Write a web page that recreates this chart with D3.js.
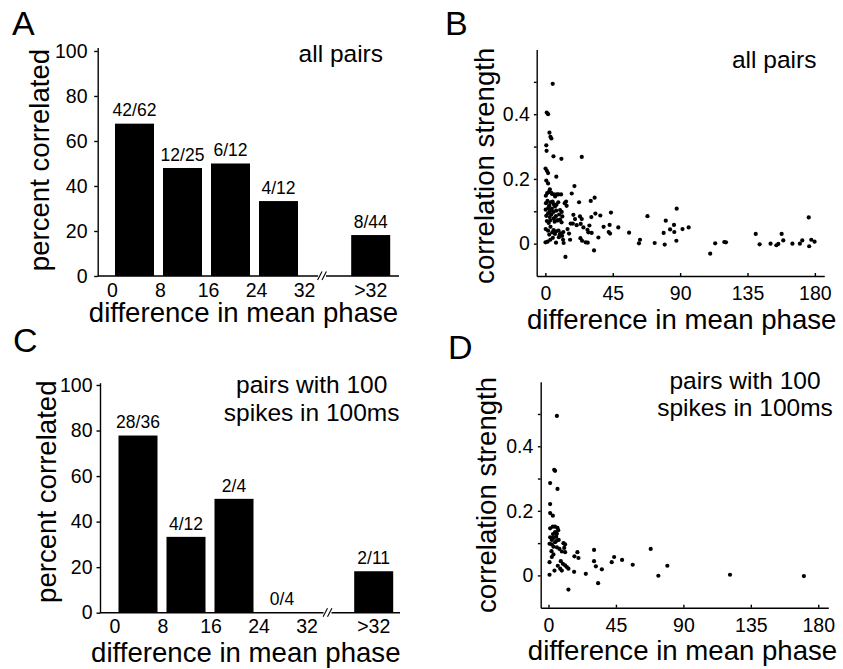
<!DOCTYPE html>
<html>
<head>
<meta charset="utf-8">
<script src="https://cdn.jsdelivr.net/npm/d3@7"></script>
<style>
  html, body { margin: 0; padding: 0; background: #fff; }
  svg { display: block; font-family: "Liberation Sans", Arial, Helvetica, sans-serif; }
</style>
</head>
<body>
<svg id="chart" width="843" height="669"></svg>
<script>
// ---------------- data ----------------
const barCategories = ["0-8", "8-16", "16-24", "24-32", ">32"];
const binStarts = [0, 8, 16, 24];
const xTickLabels = ["0", "8", "16", "24", "32"];
const overLabel = ">32";

const pctAllPairs = [67.7, 48, 50, 33.3, 18.2];
const fracAllPairs = ["42/62", "12/25", "6/12", "4/12", "8/44"];

const pctHighRate = [77.8, 33.3, 50, 0, 18.2];
const fracHighRate = ["28/36", "4/12", "2/4", "0/4", "2/11"];

const barYTicks = [0, 20, 40, 60, 80, 100];
const scatterXTicks = [0, 45, 90, 135, 180];
const scatterYTicks = [0, 0.1, 0.2, 0.3, 0.4, 0.5];
const scatterYLabelled = [0, 0.2, 0.4];

// [difference in mean phase, correlation strength]
const scatterAllPairs = [
  [4.9,0.494],[0.9,0.405],[1.8,0.400],[2.7,0.343],[3.4,0.330],[4.0,0.325],[0.6,0.304],[0.8,0.287],
  [5.4,0.270],[0.1,0.232],[1.0,0.225],[1.8,0.218],[7.3,0.207],[0.6,0.195],[1.8,0.186],[3.0,0.168],
  [3.8,0.158],[0.3,0.148],[1.2,0.156],[2.4,0.160],[4.3,0.154],[5.7,0.152],[7.6,0.152],[6.5,0.146],
  [0.4,0.125],[1.4,0.132],[2.6,0.118],[3.5,0.128],[4.8,0.130],[5.6,0.122],[6.4,0.115],[7.4,0.120],
  [0.2,0.105],[1.9,0.110],[3.0,0.100],[4.3,0.108],[5.4,0.098],[7.2,0.102],[0.6,0.086],[1.8,0.094],
  [2.9,0.082],[4.0,0.090],[5.6,0.078],[7.0,0.085],[1.0,0.070],[2.2,0.064],[3.3,0.072],[6.2,0.068],
  [7.8,0.072],[0.2,0.045],[1.8,0.040],[3.4,0.052],[4.6,0.035],[5.5,0.042],[6.4,0.030],[7.2,0.038],
  [2.6,0.028],[0.1,0.004],[1.5,0.006],[3.3,0.012],[5.0,0.018],[7.1,0.003],
  [10.7,0.262],[8.7,0.152],[10.5,0.152],[13.8,0.130],[14.2,0.117],[9.8,0.104],[10.9,0.098],[12.9,0.125],
  [8.6,0.128],[9.2,0.090],[11.3,0.084],[8.4,0.072],[9.8,0.074],[10.8,0.066],[8.8,0.040],[9.6,0.028],
  [10.4,0.032],[11.2,0.024],[12.0,0.036],[9.0,0.020],[11.8,0.012],[12.2,0.002],[13.4,-0.041],[15.8,0.031],
  [14.8,0.045],
  [17.6,0.155],[19.4,0.178],[22.5,0.128],[18.7,0.089],[19.8,0.076],[23.1,0.084],[16.9,0.062],[18.3,0.062],
  [20.9,0.057],[23.6,0.061],[16.5,0.012],[23.4,0.017],
  [24.3,0.268],[30.3,0.132],[24.3,0.076],[25.4,0.050],[29.4,0.056],[28.1,0.043],[28.7,0.035],[30.9,0.033],
  [24.5,0.009],[26.9,0.004],[28.3,0.003],[30.7,0.082],
  [32.9,0.142],[33.4,0.093],[36.7,0.087],[32.5,-0.021],[35.4,0.019],[38.9,0.052],[42.3,0.036],[42.9,0.058],
  [43.8,0.096],[43.2,0.031],[48.7,0.050],[55.9,0.034],[62.5,0.001],[63.2,0.012],[68.2,0.085],[73.0,0.002],
  [79.0,0.033],[79.7,-0.003],[80.4,0.071],[83.3,0.044],[85.9,0.058],[86.1,0.036],[87.5,0.009],[87.7,0.108],
  [91.6,0.045],[95.7,0.050],[110.1,-0.031],[113.4,0.001],[119.5,0.005],[120.6,0.004],[140.5,0.030],[143.1,-0.002],
  [150.4,0.000],[154.3,-0.005],[155.6,-0.001],[157.8,0.030],[158.9,0.010],[165.0,0.000],[170.0,0.000],[171.6,0.010],
  [175.9,0.081],[176.2,-0.008],[177.6,0.012],[179.8,0.006]
];

const scatterHighRate = [
  [5.6,0.494],[3.8,0.327],[4.4,0.324],[1.1,0.286],[6.0,0.268],[1.1,0.221],[1.1,0.193],[2.9,0.185],
  [1.1,0.146],[2.9,0.151],[4.4,0.151],[6.0,0.147],[4.4,0.134],[5.6,0.129],[5.1,0.120],[1.1,0.118],
  [2.2,0.110],[3.3,0.116],[0.7,0.098],[2.2,0.096],[4.4,0.103],[5.6,0.108],[3.3,0.089],[5.6,0.087],
  [7.3,0.082],[3.3,0.065],[2.2,0.057],[4.0,0.015],[7.8,0.021],[0.7,0.002],[0.7,0.041],[6.5,0.140],
  [3.0,0.128],[6.8,0.110],[2.0,0.075],[6.2,0.030],
  [10.0,0.100],[11.1,0.096],[8.9,0.074],[11.1,0.072],[8.2,0.044],[9.6,0.036],[11.1,0.031],[12.2,0.026],
  [13.3,0.021],[8.9,0.015],[13.3,-0.044],[10.5,0.085],
  [17.1,0.011],[17.3,0.059],[19.3,0.072],[20.0,0.054],
  [24.9,0.005],[30.4,0.079],[30.4,0.044],[31.6,0.028],
  [33.1,-0.024],[35.6,0.019],[42.2,0.041],[43.8,0.057],[49.1,0.048],[56.2,0.033],[68.2,0.082],[73.3,-0.001],
  [79.3,0.030],[121.1,0.002],[170.4,-0.002]
];

const xAxisTitle = "difference in mean phase";
const barYTitle = "percent correlated";
const scatterYTitle = "correlation strength";
const noteAll = ["all pairs"];
const noteHigh = ["pairs with 100", "spikes in 100ms"];

// ---------------- drawing ----------------
const svg = d3.select("#chart");
const FONT_TICK = 19.5, FONT_TITLE = 27.6, FONT_NOTE = 24.5, FONT_BARLBL = 17.5, FONT_LETTER = 34;
const AXIS_W = 1.4;

function styleAxis(g) {
  g.attr("font-size", null).attr("font-family", null);
  g.selectAll("path.domain").attr("stroke", "#000").attr("stroke-width", AXIS_W);
  g.selectAll(".tick line").attr("stroke", "#000").attr("stroke-width", AXIS_W);
  g.selectAll(".tick text").attr("fill", "#000").style("font-size", FONT_TICK + "px");
}

function letter(t, x, y) {
  svg.append("text").attr("x", x).attr("y", y).style("font-size", FONT_LETTER + "px").text(t);
}

function yTitle(t, bx, cy) {
  svg.append("text").attr("transform", `translate(${bx},${cy}) rotate(-90)`)
    .attr("text-anchor", "middle").style("font-size", FONT_TITLE + "px").text(t);
}

function xTitle(t, cx, by) {
  svg.append("text").attr("x", cx).attr("y", by).attr("text-anchor", "middle")
    .style("font-size", FONT_TITLE + "px").text(t);
}

function note(lines, cx, baselines) {
  lines.forEach((l, i) => {
    svg.append("text").attr("x", cx).attr("y", baselines[i]).attr("text-anchor", "middle")
      .style("font-size", FONT_NOTE + "px").text(l);
  });
}

function barPanel(cfg, pct, frac) {
  const y = d3.scaleLinear().domain([0, cfg.yMax]).range([cfg.yBase, cfg.yTop]);
  const x = d3.scaleLinear().domain([0, 32]).range([cfg.x0, cfg.x32]);
  const binPx = x(8) - x(0);
  const barW = binPx * 0.8125;

  const bars = barCategories.map((c, i) => {
    const left = i < binStarts.length ? x(binStarts[i]) + cfg.barOff : cfg.overCenter - barW / 2;
    return { cat: c, left, v: pct[i], lbl: frac[i] };
  });

  svg.append("g").selectAll("rect").data(bars).join("rect")
    .attr("x", d => d.left).attr("width", barW)
    .attr("y", d => y(d.v)).attr("height", d => y(0) - y(d.v))
    .attr("fill", "#000");

  svg.append("g").selectAll("text").data(bars).join("text")
    .attr("x", d => d.left + barW / 2).attr("y", d => y(d.v) - 7.3)
    .attr("text-anchor", "middle").style("font-size", FONT_BARLBL + "px")
    .text(d => d.lbl);

  // y axis
  const ga = svg.append("g").attr("transform", `translate(${cfg.axisX},0)`)
    .call(d3.axisLeft(y).tickValues(barYTicks).tickSize(3.5).tickSizeOuter(0).tickPadding(cfg.tickPad));
  styleAxis(ga);

  // x axis with break
  const xa = svg.append("g").attr("stroke", "#000").attr("stroke-width", AXIS_W).attr("fill", "none");
  xa.append("line").attr("x1", cfg.axisX).attr("x2", cfg.brk - 4).attr("y1", y(0)).attr("y2", y(0));
  xa.append("line").attr("x1", cfg.brk + 4).attr("x2", cfg.axisEnd).attr("y1", y(0)).attr("y2", y(0));
  [-2.2, 2.2].forEach(o => {
    xa.append("line").attr("x1", cfg.brk + o - 2.2).attr("y1", y(0) + 4)
      .attr("x2", cfg.brk + o + 2.2).attr("y2", y(0) - 4.5).attr("stroke-width", 1.1);
  });

  const tickPos = xTickLabels.map((t, i) => ({ t, px: x(i * 8) }));
  tickPos.push({ t: overLabel, px: cfg.overCenter });
  svg.append("g").selectAll("text").data(tickPos).join("text")
    .attr("x", d => d.px).attr("y", cfg.xTickBase).attr("text-anchor", "middle")
    .style("font-size", FONT_TICK + "px").text(d => d.t);

  yTitle(barYTitle, cfg.yTitleX, cfg.yTitleY);
  xTitle(xAxisTitle, cfg.xTitleX, cfg.xTitleBase);
  note(cfg.note, cfg.noteX, cfg.noteBase);
  letter(cfg.letter, cfg.letterX, cfg.letterY);
}

function scatterPanel(cfg, pts) {
  const x = d3.scaleLinear().domain(cfg.xDom).range([cfg.axisX, cfg.axisEnd]);
  const y = d3.scaleLinear().domain([-0.1, 0.6]).range([cfg.yBase, cfg.yTop]);

  const gy = svg.append("g").attr("transform", `translate(${cfg.axisX},0)`)
    .call(d3.axisLeft(y).tickValues(scatterYTicks).tickSize(2.8).tickSizeOuter(0).tickPadding(cfg.tickPad)
      .tickFormat(d => scatterYLabelled.includes(d) ? (d === 0 ? "0" : d3.format(".1f")(d)) : ""));
  styleAxis(gy);

  const gx = svg.append("g").attr("transform", `translate(0,${cfg.yBase})`)
    .call(d3.axisBottom(x).tickValues(scatterXTicks).tickSize(-3).tickSizeOuter(0).tickPadding(10.5));
  styleAxis(gx);

  svg.append("g").selectAll("circle").data(pts).join("circle")
    .attr("cx", d => x(d[0])).attr("cy", d => y(d[1])).attr("r", 2.1).attr("fill", "#000");

  yTitle(scatterYTitle, cfg.yTitleX, cfg.yTitleY);
  xTitle(xAxisTitle, cfg.xTitleX, cfg.xTitleBase);
  note(cfg.note, cfg.noteX, cfg.noteBase);
  letter(cfg.letter, cfg.letterX, cfg.letterY);
}

barPanel({
  letter: "A", letterX: 12, letterY: 35,
  axisX: 97.7, yBase: 276, yTop: 47.6, yMax: 101.5, tickPad: 6.7,
  x0: 112.5, x32: 304.5, barOff: 2.5, overCenter: 370.7, axisEnd: 399, brk: 322,
  xTickBase: 296.7, xTitleX: 243.5, xTitleBase: 322,
  yTitleX: 49, yTitleY: 160,
  note: noteAll, noteX: 340.8, noteBase: [62]
}, pctAllPairs, fracAllPairs);

barPanel({
  letter: "C", letterX: 13, letterY: 352,
  axisX: 100, yBase: 612.7, yTop: 382.7, yMax: 101, tickPad: 4,
  x0: 115, x32: 307, barOff: 3.5, overCenter: 373.7, axisEnd: 400, brk: 327.5,
  xTickBase: 633.3, xTitleX: 245.8, xTitleBase: 661.7,
  yTitleX: 56, yTitleY: 491.7,
  note: noteHigh, noteX: 311.7, noteBase: [393.3, 420.7]
}, pctHighRate, fracHighRate);

scatterPanel({
  letter: "B", letterX: 445, letterY: 35,
  axisX: 536.7, axisEnd: 824.3, xDom: [-5.8, 186.3], yBase: 276, yTop: 49.5, tickPad: 4,
  xTitleX: 681.7, xTitleBase: 329, yTitleX: 494, yTitleY: 165.8,
  note: noteAll, noteX: 774.2, noteBase: [68]
}, scatterAllPairs);

scatterPanel({
  letter: "D", letterX: 448, letterY: 359,
  axisX: 540.7, axisEnd: 828.3, xDom: [-5.2, 186.7], yBase: 607.7, yTop: 381.7, tickPad: 4.6,
  xTitleX: 682.5, xTitleBase: 660, yTitleX: 496, yTitleY: 495,
  note: noteHigh, noteX: 745, noteBase: [389.3, 416]
}, scatterHighRate);
</script>
</body>
</html>
